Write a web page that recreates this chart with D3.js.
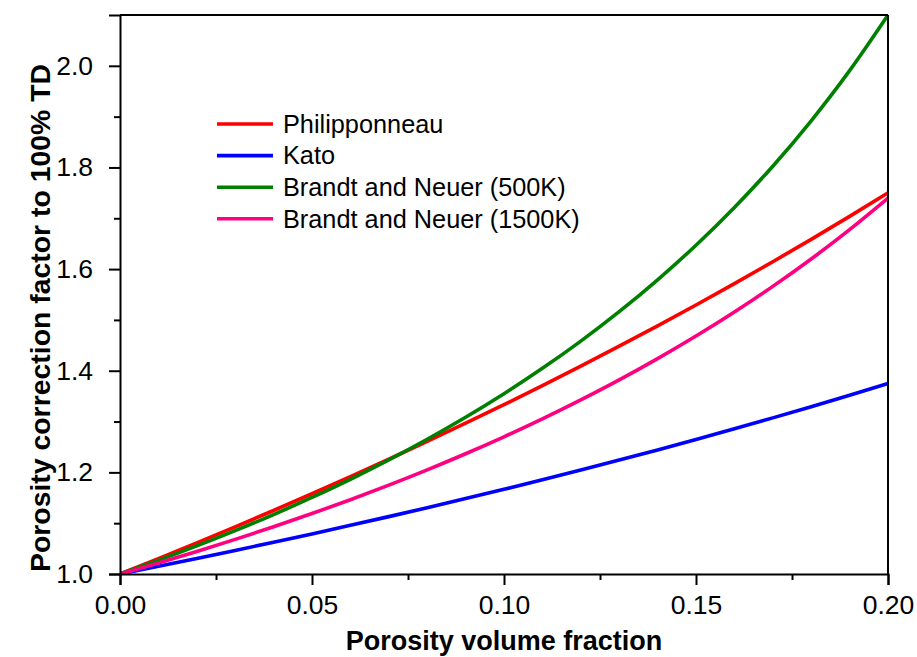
<!DOCTYPE html>
<html>
<head>
<meta charset="utf-8">
<script src="https://cdn.jsdelivr.net/npm/d3@7"></script>
<style>
  html, body { margin: 0; padding: 0; background: #fff; }
  svg { display: block; font-family: "Liberation Sans", Arial, sans-serif; }
</style>
</head>
<body>
<svg id="chart" width="917" height="657"></svg>
<script>
// Porosity volume fraction sampled every 0.01
const porosity = [0.00, 0.01, 0.02, 0.03, 0.04, 0.05, 0.06, 0.07, 0.08, 0.09, 0.10,
                  0.11, 0.12, 0.13, 0.14, 0.15, 0.16, 0.17, 0.18, 0.19, 0.20];

// Correction factor to 100% theoretical density for each model
const philipponneau = [1.0000, 1.0303, 1.0612, 1.0928, 1.1250, 1.1579, 1.1915, 1.2258, 1.2609, 1.2967, 1.3333,
                       1.3708, 1.4091, 1.4483, 1.4884, 1.5294, 1.5714, 1.6145, 1.6585, 1.7037, 1.7500];
const kato = [1.0000, 1.0152, 1.0306, 1.0464, 1.0625, 1.0789, 1.0957, 1.1129, 1.1304, 1.1484, 1.1667,
              1.1854, 1.2045, 1.2241, 1.2442, 1.2647, 1.2857, 1.3072, 1.3293, 1.3519, 1.3750];
const brandtNeuer500 = [1.0000, 1.0269, 1.0553, 1.0853, 1.1170, 1.1507, 1.1864, 1.2245, 1.2651, 1.3084, 1.3548,
                        1.4047, 1.4583, 1.5162, 1.5789, 1.6470, 1.7213, 1.8025, 1.8919, 1.9905, 2.1000];
const brandtNeuer1500 = [1.0000, 1.0217, 1.0444, 1.0681, 1.0929, 1.1189, 1.1462, 1.1748, 1.2049, 1.2366, 1.2700,
                         1.3052, 1.3425, 1.3819, 1.4238, 1.4682, 1.5155, 1.5660, 1.6199, 1.6777, 1.7397];

const seriesNames = ["Philipponneau", "Kato", "Brandt and Neuer (500K)", "Brandt and Neuer (1500K)"];
const seriesColors = ["#ff0000", "#0000ff", "#008000", "#ff0080"];
const seriesValues = [philipponneau, kato, brandtNeuer500, brandtNeuer1500];

const xTicks = [0.00, 0.05, 0.10, 0.15, 0.20];
const xMinorTicks = [0.025, 0.075, 0.125, 0.175];
const yTicks = [1.0, 1.2, 1.4, 1.6, 1.8, 2.0];
const yMinorTicks = [1.1, 1.3, 1.5, 1.7, 1.9];

const xTitle = "Porosity volume fraction";
const yTitle = "Porosity correction factor to 100% TD";

const svg = d3.select("#chart");
const margin = { left: 120, right: 29, top: 15, bottom: 83 };
const W = 917, H = 657;
const x = d3.scaleLinear().domain([0, 0.2]).range([margin.left, W - margin.right]);
const y = d3.scaleLinear().domain([1.0, 2.1]).range([H - margin.bottom, margin.top]);

// Curves, clipped to the plot frame
svg.append("clipPath").attr("id", "plotClip")
  .append("rect")
  .attr("x", x(0)).attr("y", y(2.1) - 2)
  .attr("width", x(0.2) - x(0) + 2).attr("height", y(1.0) - y(2.1) + 2);

const line = d3.line()
  .x((d, i) => x(porosity[i]))
  .y(d => y(d))
  .curve(d3.curveMonotoneX);

const curves = svg.append("g").attr("clip-path", "url(#plotClip)");
seriesValues.forEach((vals, k) => {
  curves.append("path")
    .datum(vals)
    .attr("d", line)
    .attr("fill", "none")
    .attr("stroke", seriesColors[k])
    .attr("stroke-width", 3.6)
    .attr("stroke-linejoin", "round");
});

// Frame: top and right edges without ticks
svg.append("line")
  .attr("x1", x(0)).attr("x2", x(0.2))
  .attr("y1", y(2.1)).attr("y2", y(2.1))
  .attr("stroke", "#000").attr("stroke-width", 2);
svg.append("line")
  .attr("x1", x(0.2)).attr("x2", x(0.2))
  .attr("y1", y(2.1)).attr("y2", y(1.0))
  .attr("stroke", "#000").attr("stroke-width", 2);

// Bottom axis
svg.append("g").attr("transform", `translate(0,${y(1.0)})`)
  .call(d3.axisBottom(x).tickValues(xTicks).tickFormat(d3.format(".2f")).tickSize(11).tickPadding(10));
svg.append("g").attr("transform", `translate(0,${y(1.0)})`)
  .call(d3.axisBottom(x).tickValues(xMinorTicks).tickFormat("").tickSize(6))
  .call(g => g.select(".domain").remove());

// Left axis
svg.append("g").attr("transform", `translate(${x(0)},0)`)
  .call(d3.axisLeft(y).tickValues(yTicks).tickFormat(d3.format(".1f")).tickSize(11).tickPadding(16));
svg.append("g").attr("transform", `translate(${x(0)},0)`)
  .call(d3.axisLeft(y).tickValues(yMinorTicks).tickFormat("").tickSize(6))
  .call(g => g.select(".domain").remove());

svg.selectAll(".domain").attr("stroke", "#000").attr("stroke-width", 2);
svg.selectAll(".tick line").attr("stroke", "#000").attr("stroke-width", 2);
svg.selectAll(".tick text")
  .attr("font-family", "'Liberation Sans', Arial, sans-serif")
  .attr("font-size", 26.5)
  .attr("fill", "#000");

// Axis titles
svg.append("text")
  .attr("x", (x(0) + x(0.2)) / 2)
  .attr("y", 650)
  .attr("text-anchor", "middle")
  .attr("font-size", 27)
  .attr("font-weight", "bold")
  .text(xTitle);

svg.append("text")
  .attr("transform", "translate(50,318) rotate(-90)")
  .attr("text-anchor", "middle")
  .attr("font-size", 28.4)
  .attr("font-weight", "bold")
  .text(yTitle);

// Legend
const legend = svg.append("g").attr("transform", "translate(217,124)");
seriesNames.forEach((name, k) => {
  const row = legend.append("g").attr("transform", `translate(0,${k * 31.6})`);
  row.append("line")
    .attr("x1", 0).attr("x2", 56)
    .attr("y1", 0).attr("y2", 0)
    .attr("stroke", seriesColors[k])
    .attr("stroke-width", 3.6);
  row.append("text")
    .attr("x", 66).attr("y", 8.8)
    .attr("font-size", 25.3)
    .attr("fill", "#000")
    .text(name);
});
</script>
</body>
</html>
